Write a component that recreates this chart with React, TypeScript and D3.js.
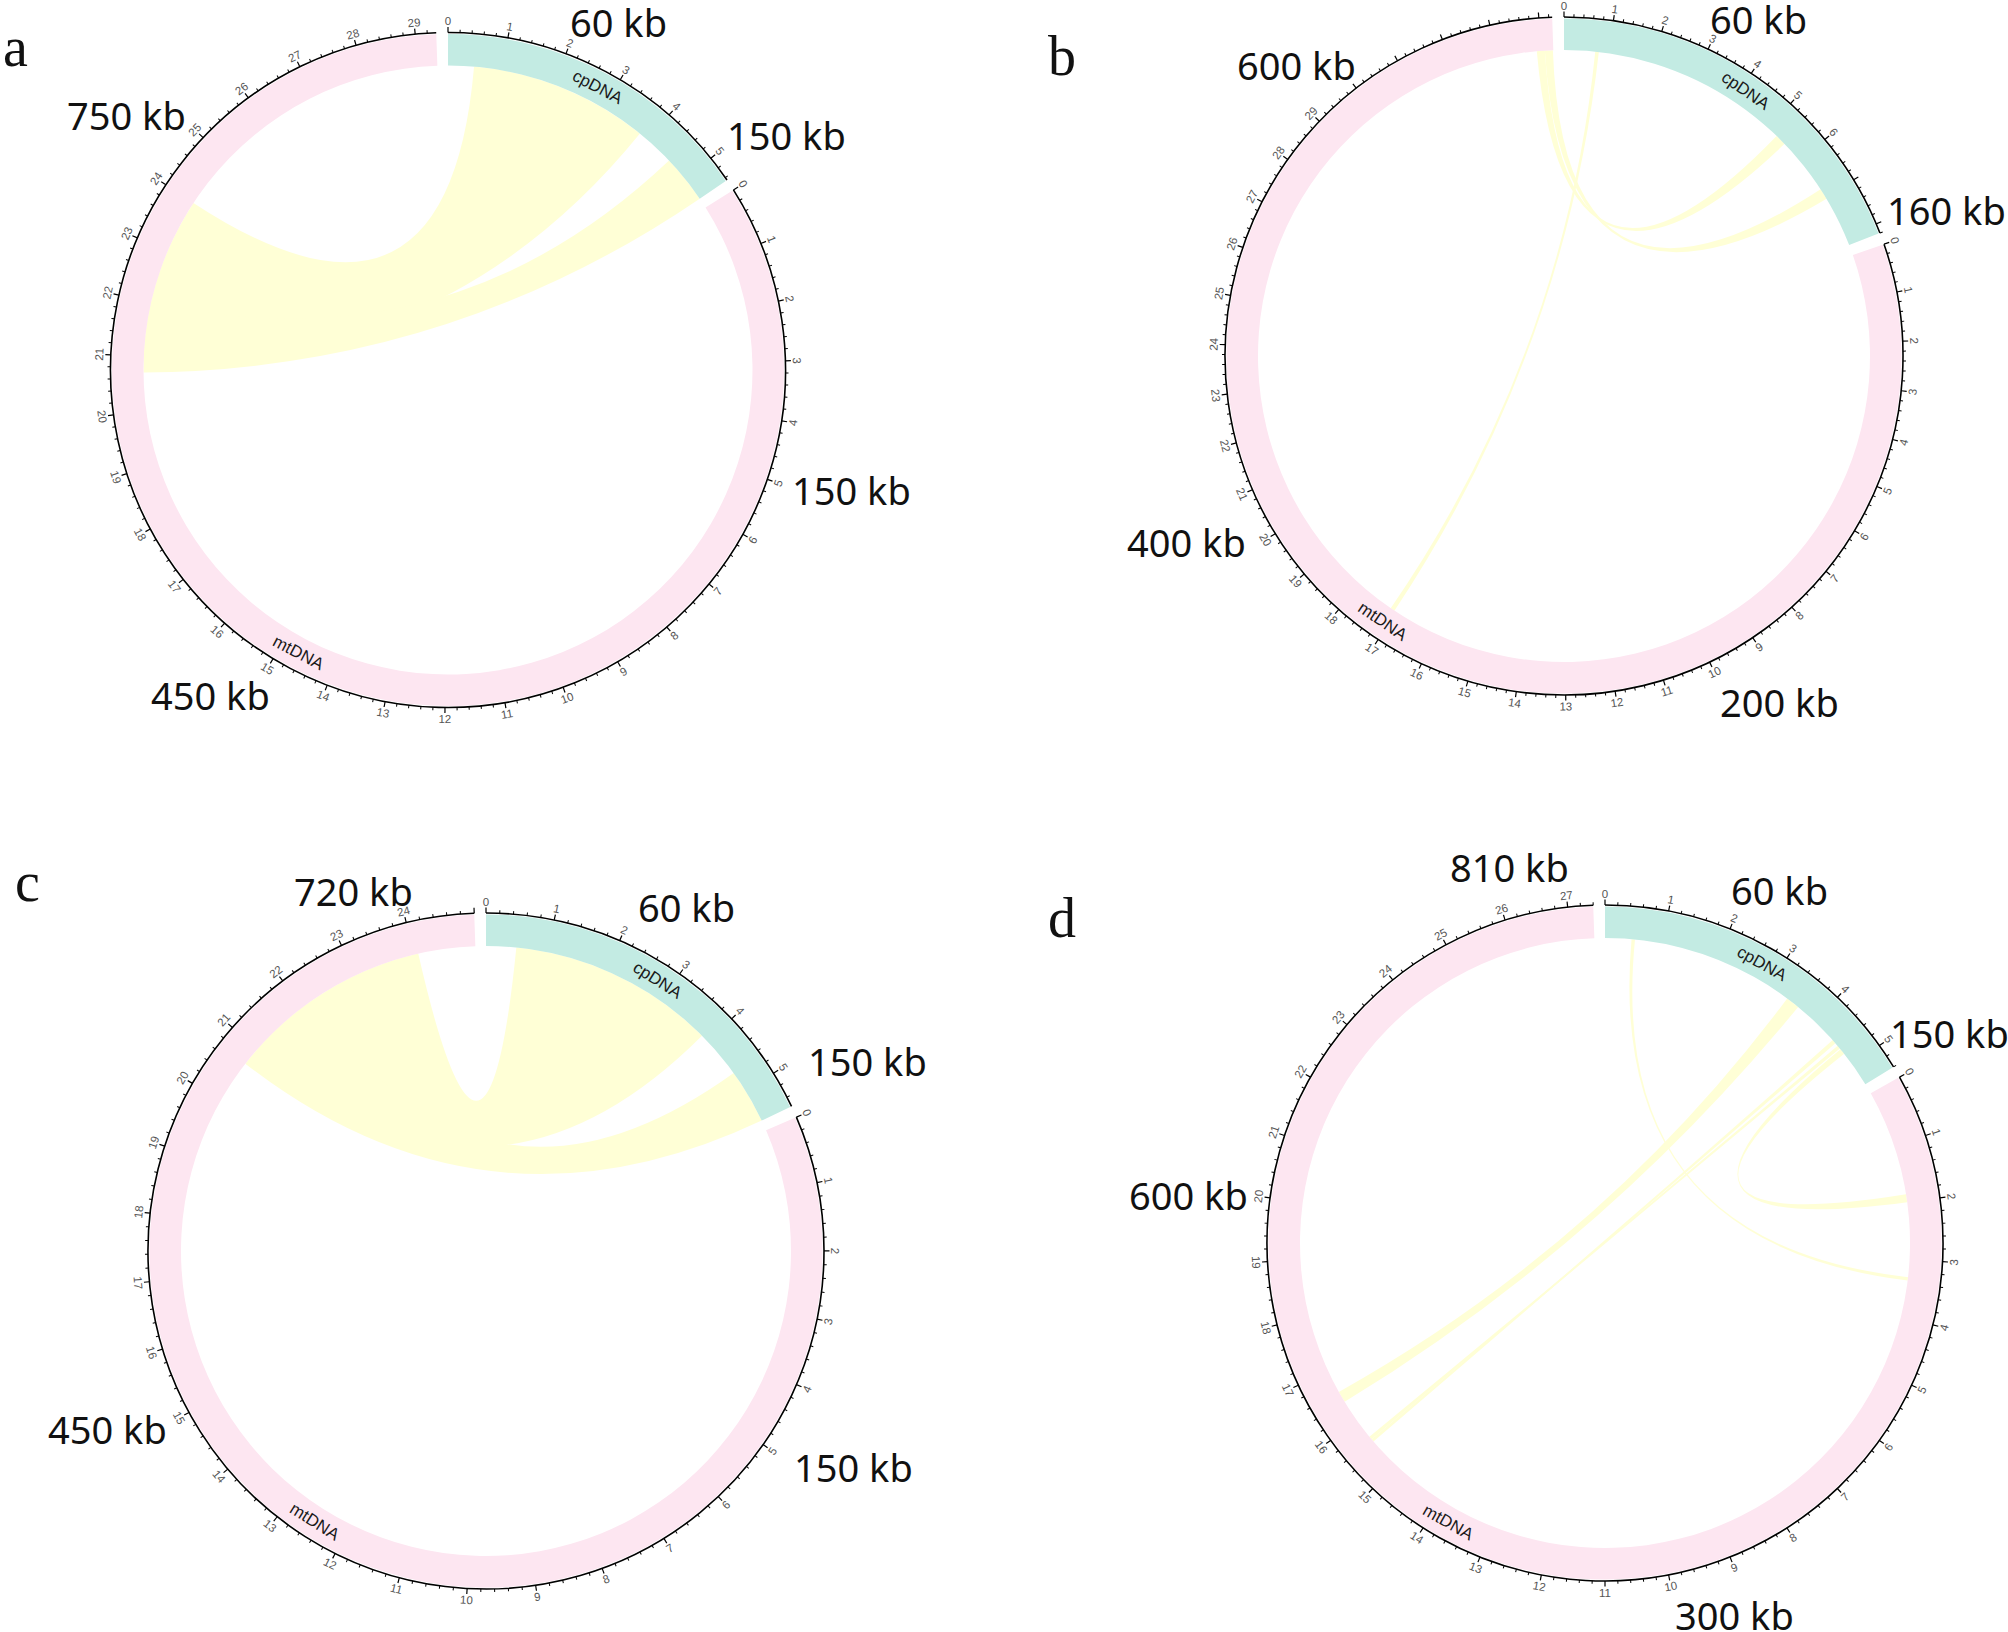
import React from 'react';
import * as d3 from 'd3';

// sequence lengths in tick units, one value per panel a-d
const panelNames = ['a', 'b', 'c', 'd'];
const cpLength = [5.45, 8.2, 5.55, 5.4];
const mtLength = [29.35, 34.27, 25.0, 27.4];
const cpLastLabel = [5, 6, 5, 5];
const mtLastLabel = [29, 29, 24, 27];

// links: panel, cpDNA start, cpDNA end, mtDNA start, mtDNA end
const links: number[][] = [
  [0, 0.48, 3.82, 20.9, 24.0],
  [0, 4.55, 5.45, 20.7, 22.0],
  [1, 0.7, 0.78, 17.05, 17.15],
  [1, 5.25, 5.5, 33.9, 34.08],
  [1, 6.8, 7.05, 34.08, 34.26],
  [2, 0.49, 3.87, 21.0, 24.07],
  [2, 4.66, 5.55, 20.7, 22.2],
  [3, 0.46, 0.52, 3.3, 3.36],
  [3, 3.38, 3.62, 16.4, 16.6],
  [3, 4.45, 4.52, 15.55, 15.6],
  [3, 4.58, 4.64, 15.6, 15.66],
  [3, 4.66, 4.76, 1.86, 2.0],
];

// size annotations written around each circle
const kbPanel = [0, 0, 0, 0, 0, 1, 1, 1, 1, 1, 2, 2, 2, 2, 2, 3, 3, 3, 3, 3];
const kbText = [
  '60 kb', '750 kb', '150 kb', '150 kb', '450 kb',
  '60 kb', '600 kb', '160 kb', '400 kb', '200 kb',
  '720 kb', '60 kb', '150 kb', '450 kb', '150 kb',
  '810 kb', '60 kb', '150 kb', '600 kb', '300 kb',
];

// layout
const panelLayout = [
  { cx: 448, cy: 370, r: 337.5, lx: 3, ly: 66 },
  { cx: 1564, cy: 356, r: 339, lx: 1048, ly: 75 },
  { cx: 486, cy: 1251, r: 338, lx: 15, ly: 901 },
  { cx: 1605, cy: 1243, r: 338, lx: 1048, ly: 937 },
];
const kbPos = [
  [570, 37], [67, 130], [727, 150], [792, 505], [151, 710],
  [1710, 34], [1237, 80], [1887, 225], [1127, 557], [1720, 717],
  [294, 906], [638, 922], [808, 1076], [48, 1444], [794, 1482],
  [1450, 882], [1731, 905], [1890, 1048], [1129, 1210], [1675, 1630],
];

const GAP = 2;
const BAND = 33;
const rad = (deg: number) => (deg * Math.PI) / 180;
const isFlipped = (deg: number) => {
  const a = ((deg % 360) + 360) % 360;
  return a > 90 && a < 270;
};

function Panel({ i }: { i: number }) {
  const { cx, cy, r } = panelLayout[i];
  const unitDeg = (360 - 2 * GAP) / (cpLength[i] + mtLength[i]);
  const cpScale = d3.scaleLinear().domain([0, cpLength[i]]).range([0, cpLength[i] * unitDeg]);
  const mtStart = cpLength[i] * unitDeg + GAP;
  const mtScale = d3.scaleLinear().domain([0, mtLength[i]]).range([mtStart, mtStart + mtLength[i] * unitDeg]);
  const inner = r - BAND;
  const bandArc = d3.arc<any>().innerRadius(inner).outerRadius(r - 1.5);
  const ribbon = d3.ribbon<any, any>().radius(inner);

  const sectors = [
    { name: 'cpDNA', len: cpLength[i], scale: cpScale, color: '#c3ebe3', last: cpLastLabel[i] },
    { name: 'mtDNA', len: mtLength[i], scale: mtScale, color: '#fde6f1', last: mtLastLabel[i] },
  ];

  return (
    <g transform={`translate(${cx},${cy})`}>
      {links.filter(l => l[0] === i).map((l, j) => (
        <path
          key={j}
          d={ribbon({
            source: { startAngle: rad(cpScale(l[1])), endAngle: rad(cpScale(l[2])) },
            target: { startAngle: rad(mtScale(l[3])), endAngle: rad(mtScale(l[4])) },
          }) as any}
          fill="#ffffd6"
        />
      ))}
      {sectors.map(s => {
        const a0 = s.scale(0);
        const a1 = s.scale(s.len);
        const axis = d3.path();
        axis.arc(0, 0, r, rad(a0) - Math.PI / 2, rad(a1) - Math.PI / 2);
        const ticks = d3.range(0, Math.floor(s.len * 5 + 1e-6) + 1);
        const mid = s.scale(s.len / 2);
        return (
          <g key={s.name}>
            <path d={bandArc({ startAngle: rad(a0), endAngle: rad(a1) }) as any} fill={s.color} />
            <path d={axis.toString()} fill="none" stroke="#000" strokeWidth={1.6} />
            {ticks.map(j => {
              const major = j % 5 === 0;
              const deg = s.scale(j / 5);
              return (
                <line
                  key={j}
                  transform={`rotate(${deg})`}
                  x1={0} x2={0} y1={-r} y2={-(r + (major ? 5.5 : 3))}
                  stroke="#000" strokeWidth={major ? 1.2 : 1}
                />
              );
            })}
            {d3.range(0, s.last + 1).map(v => {
              const deg = s.scale(v);
              return (
                <text
                  key={v}
                  transform={`rotate(${deg}) translate(0,${-(r + 11.5)}) rotate(${isFlipped(deg) ? 180 : 0})`}
                  textAnchor="middle" dominantBaseline="central"
                  fontFamily="Liberation Sans, Arial, sans-serif" fontSize={11.5} fill="#555"
                >{v}</text>
              );
            })}
            <text
              transform={`rotate(${mid}) translate(0,${-(r - BAND / 2 - 1)}) rotate(${isFlipped(mid) ? 180 : 0})`}
              textAnchor="middle" dominantBaseline="central"
              fontFamily="Liberation Sans, Arial, sans-serif" fontSize={17} fill="#1a1a1a"
            >{s.name}</text>
          </g>
        );
      })}
    </g>
  );
}

export default function App() {
  return (
    <svg
      width={2008} height={1632}
      style={{ position: 'absolute', left: 0, top: 0, background: '#fff' }}
    >
      <rect width={2008} height={1632} fill="#fff" />
      {panelNames.map((n, i) => (
        <g key={n}>
          <Panel i={i} />
          <text
            x={panelLayout[i].lx} y={panelLayout[i].ly}
            fontFamily="Liberation Serif, Times New Roman, serif" fontSize={56} fill="#111"
          >{n}</text>
        </g>
      ))}
      {kbText.map((t, j) => (
        <text
          key={j}
          x={kbPos[j][0]} y={kbPos[j][1]}
          fontFamily="Noto Sans, sans-serif" fontSize={38} fill="#111"
          data-panel={kbPanel[j]}
        >{t}</text>
      ))}
    </svg>
  );
}
